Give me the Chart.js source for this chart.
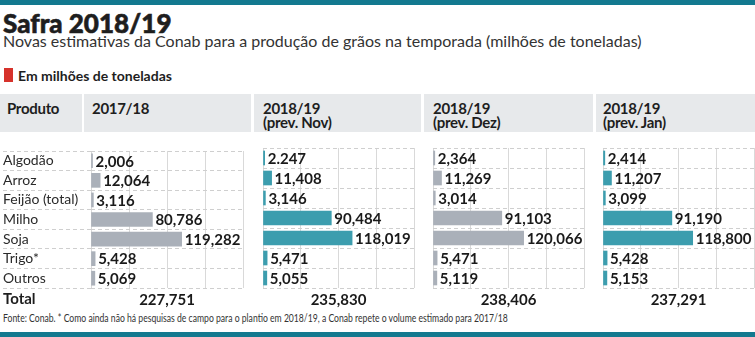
<!DOCTYPE html>
<html>
<head>
<meta charset="utf-8">
<script src="https://cdn.jsdelivr.net/npm/chart.js@4.4.1/dist/chart.umd.min.js"></script>
<style>
  body { margin: 0; width: 755px; height: 337px; overflow: hidden; background: #fff; position: relative; font-family: Lato, 'Noto Sans', sans-serif; color: #1e1e1e; }
  .abs { position: absolute; white-space: nowrap; }
  .strip { left: 0; width: 755px; height: 5px; background: #13798f; }
  #title { left: 3px; top: 7px; font-size: 26px; font-weight: 900; -webkit-text-stroke: 0.6px #1e1e1e; }
  #subtitle { left: 3px; top: 31px; font-size: 16px; color: #333; }
  #unit-mark { left: 4px; top: 68px; width: 9px; height: 14px; background: #d6322b; }
  #unit { left: 18px; top: 67px; font-size: 14px; font-weight: bold; }
  .cell { top: 94px; height: 38px; background: #e7e9eb; }
  .head { top: 101px; font-size: 15px; font-weight: bold; line-height: 14px; letter-spacing: -0.3px; }
  #total-label { left: 3px; top: 289px; font-size: 15px; font-weight: bold; }
  #footer { left: 3px; top: 311px; font-size: 11px; color: #333; transform-origin: left top; }
  canvas { position: absolute; }
</style>
</head>
<body>
<div class="abs strip" style="top:0"></div>
<div class="abs" id="title">Safra 2018/19</div>
<div class="abs" id="subtitle">Novas estimativas da Conab para a produção de grãos na temporada (milhões de toneladas)</div>
<div class="abs" id="unit-mark"></div>
<div class="abs" id="unit">Em milhões de toneladas</div>

<div class="abs cell" style="left:0;width:82px"></div>
<div class="abs cell" style="left:84px;width:167px"></div>
<div class="abs cell" style="left:254px;width:167px"></div>
<div class="abs cell" style="left:424px;width:169px"></div>
<div class="abs cell" style="left:596px;width:159px"></div>
<div class="abs head" style="left:7px">Produto</div>
<div class="abs head" style="left:92px">2017/18</div>
<div class="abs head" style="left:263px">2018/19<br>(prev. Nov)</div>
<div class="abs head" style="left:433px">2018/19<br>(prev. Dez)</div>
<div class="abs head" style="left:603px">2018/19<br>(prev. Jan)</div>

<canvas id="c0" width="246" height="164" style="left:0;top:146px"></canvas>
<canvas id="c1" width="156" height="164" style="left:261px;top:146px"></canvas>
<canvas id="c2" width="156" height="164" style="left:431px;top:146px"></canvas>
<canvas id="c3" width="156" height="164" style="left:601px;top:146px"></canvas>

<div class="abs" id="total-label">Total</div>
<div class="abs" id="footer">Fonte: Conab. * Como ainda não há pesquisas de campo para o plantio em 2018/19, a Conab repete o volume estimado para 2017/18</div>
<div class="abs strip" style="top:332px"></div>

<script>
// Data (milhões de toneladas)
const produtos = ['Algodão', 'Arroz', 'Feijão (total)', 'Milho', 'Soja', 'Trigo*', 'Outros'];
const safra1718 = [2.006, 12.064, 3.116, 80.786, 119.282, 5.428, 5.069];
const prevNov = [2.247, 11.408, 3.146, 90.484, 118.019, 5.471, 5.055];
const prevDez = [2.364, 11.269, 3.014, 91.103, 120.066, 5.471, 5.119];
const prevJan = [2.414, 11.207, 3.099, 91.190, 118.800, 5.428, 5.153];
const totais = [227.751, 235.830, 238.406, 237.291];

const GRAY = '#aab0b9';
const TEAL = '#3c9dae';

// brazilian style: decimal comma
function fmt(v) {
    return v.toFixed(3).replace('.', ',');
}

// draw the number right after each bar
const valueLabels = {
    id: 'valueLabels',
    afterDatasetsDraw(chart, args, opts) {
        const ctx = chart.ctx;
        ctx.save();
        ctx.font = 'bold 15px Lato';
        ctx.fillStyle = '#1a1a1a';
        ctx.textBaseline = 'middle';
        ctx.textAlign = 'left';
        chart.getDatasetMeta(0).data.forEach((bar, i) => {
            ctx.fillText(opts.labels[i], bar.x + 3, bar.y + 1);
        });
        ctx.restore();
    }
};

function makePanel(id, values, color, labels, total, first) {
    const ctx = document.getElementById(id).getContext('2d');
    return new Chart(ctx, {
        type: 'bar',
        data: {
            labels: produtos,
            datasets: [{
                data: values,
                backgroundColor: color,
                barThickness: 14,
                borderWidth: 0
            }]
        },
        plugins: [valueLabels],
        options: {
            indexAxis: 'y',
            responsive: false,
            devicePixelRatio: 1,
            animation: false,
            layout: { padding: { top: 2, left: first ? 3 : 2, right: 3, bottom: 0 } },
            plugins: {
                legend: { display: false },
                tooltip: { enabled: false },
                valueLabels: { labels: labels }
            },
            scales: {
                x: {
                    type: 'linear',
                    min: 0,
                    max: 200,
                    ticks: { display: false, stepSize: 50 },
                    grid: { color: '#d9d9d9', drawTicks: false },
                    border: { display: false },
                    title: {
                        display: true,
                        text: fmt(total),
                        color: '#1a1a1a',
                        font: { family: 'Lato', size: 15, weight: 'bold', lineHeight: '20px' },
                        padding: { top: 2, bottom: 0 }
                    },
                    afterFit: (scale) => { scale.height = 22; }
                },
                y: {
                    type: 'category',
                    offset: true,
                    ticks: {
                        display: first,
                        autoSkip: false,
                        crossAlign: 'far',
                        color: '#2a2a2a',
                        font: { family: 'Lato', size: 14, lineHeight: '4px' }
                    },
                    grid: {
                        offset: true,
                        color: '#cfcfcf',
                        drawTicks: first,
                        tickLength: first ? 88 : 0,
                        tickColor: '#cfcfcf',
                        tickBorderDash: [4, 3]
                    },
                    border: { display: false, dash: [4, 3] },
                    afterFit: (scale) => { scale.width = first ? 88 : 0; }
                }
            }
        }
    });
}

const labelsNov = prevNov.map(fmt);
labelsNov[0] = '2.247'; // printed with a dot in the original

makePanel('c0', safra1718, GRAY, safra1718.map(fmt), totais[0], true);
makePanel('c1', prevNov, TEAL, labelsNov, totais[1], false);
makePanel('c2', prevDez, GRAY, prevDez.map(fmt), totais[2], false);
makePanel('c3', prevJan, TEAL, prevJan.map(fmt), totais[3], false);

// footer text is a condensed face in the original
const foot = document.getElementById('footer');
foot.style.transform = 'scaleX(' + (505 / foot.scrollWidth) + ')';
</script>
</body>
</html>
